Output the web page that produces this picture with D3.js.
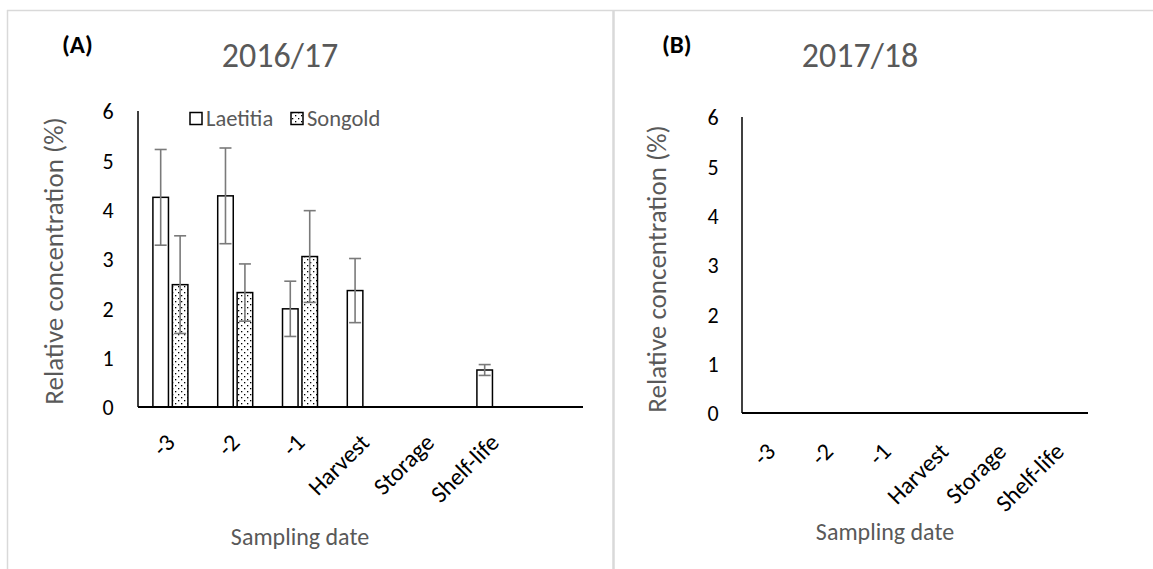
<!DOCTYPE html>
<html>
<head>
<meta charset="utf-8">
<script src="https://cdn.jsdelivr.net/npm/d3@7"></script>
<style>
  html, body { margin: 0; padding: 0; background: #fff; }
  svg { display: block; }
  text { font-family: Carlito, Calibri, "Open Sans", sans-serif; }
</style>
</head>
<body>
<svg id="chart" width="1153" height="569"></svg>
<script>
// ---- data ----
const categories = ["-3", "-2", "-1", "Harvest", "Storage", "Shelf-life"];
const seriesNames = ["Laetitia", "Songold"];
const yTicks = [0, 1, 2, 3, 4, 5, 6];

// Panel A (2016/17)
const laetitiaA = [4.25, 4.28, 1.99, 2.36, 0, 0.75];
const laetitiaErrA = [0.97, 0.97, 0.56, 0.65, 0, 0.11];
const songoldA = [2.48, 2.32, 3.05, 0, 0, 0];
const songoldErrA = [0.99, 0.58, 0.93, 0, 0, 0];

// Panel B (2017/18)
const laetitiaB = [0, 0, 0, 0, 0, 0];
const laetitiaErrB = [0, 0, 0, 0, 0, 0];
const songoldB = [0, 0, 0, 0, 0, 0];
const songoldErrB = [0, 0, 0, 0, 0, 0];

const svg = d3.select("#chart");
const GRAY_TXT = "#595959";

// pattern for Songold
const defs = svg.append("defs");
const pat = defs.append("pattern").attr("id", "dots")
  .attr("patternUnits", "userSpaceOnUse").attr("width", 6).attr("height", 6);
pat.append("rect").attr("width", 6).attr("height", 6).attr("fill", "#fff");
pat.append("rect").attr("x", 1).attr("y", 1).attr("width", 1.3).attr("height", 1.3).attr("fill", "#000");
pat.append("rect").attr("x", 4).attr("y", 4).attr("width", 1.3).attr("height", 1.3).attr("fill", "#000");

// frame lines
svg.append("line").attr("x1", 7).attr("x2", 1153).attr("y1", 10.5).attr("y2", 10.5)
  .attr("stroke", "#d9d9d9").attr("stroke-width", 1.5);
svg.append("line").attr("x1", 7.5).attr("x2", 7.5).attr("y1", 10).attr("y2", 569)
  .attr("stroke", "#d9d9d9").attr("stroke-width", 1.5);
svg.append("line").attr("x1", 613.5).attr("x2", 613.5).attr("y1", 10).attr("y2", 569)
  .attr("stroke", "#d9d9d9").attr("stroke-width", 2.5);

function panel(cfg) {
  const g = svg.append("g");
  const y = d3.scaleLinear().domain([0, 6]).range([cfg.y0, cfg.y6]);
  const x = d3.scaleBand().domain(categories).range([cfg.x0, cfg.x0 + cfg.band * categories.length]);
  const x1 = d3.scaleBand().domain(seriesNames)
    .range([x.bandwidth() * cfg.gL, x.bandwidth() * cfg.gR]).paddingInner(0.2);

  // y axis
  const yAxis = d3.axisLeft(y).tickValues(yTicks).tickSize(0).tickPadding(0).tickFormat(d3.format("d"));
  const ya = g.append("g").attr("transform", `translate(${cfg.x0},0)`).call(yAxis);
  ya.select(".domain").remove();
  ya.selectAll("text").attr("x", cfg.tickX - cfg.x0).attr("text-anchor", "middle")
    .attr("fill", "#000").style("font-size", "22px").attr("dy", "0.35em");
  g.append("line").attr("x1", cfg.x0).attr("x2", cfg.x0).attr("y1", cfg.y6).attr("y2", cfg.y0)
    .attr("stroke", "#000").attr("stroke-width", 1.5);

  const data = seriesNames.map((s, si) => ({
    name: s,
    values: categories.map((c, i) => ({ cat: c, v: cfg.vals[si][i], e: cfg.errs[si][i] }))
  }));

  const groups = g.selectAll("g.series").data(data).join("g").attr("class", "series");
  groups.each(function (sd) {
    const gg = d3.select(this);
    const fill = sd.name === "Songold" ? "url(#dots)" : "#fff";
    gg.selectAll("rect").data(sd.values.filter(d => d.v > 0)).join("rect")
      .attr("x", d => x(d.cat) + x1(sd.name))
      .attr("width", x1.bandwidth())
      .attr("y", d => y(d.v))
      .attr("height", d => y(0) - y(d.v))
      .attr("fill", fill).attr("stroke", "#000").attr("stroke-width", 1.5);
    const eb = gg.selectAll("g.err").data(sd.values.filter(d => cfg.showZeroErr || d.v > 0)).join("g").attr("class", "err")
      .attr("stroke", "#7a7a7a").attr("stroke-width", 1.6);
    const cx = d => x(d.cat) + x1(sd.name) + x1.bandwidth() / 2;
    eb.append("line").attr("x1", cx).attr("x2", cx).attr("y1", d => y(d.v + d.e)).attr("y2", d => y(d.v - d.e));
    eb.append("line").attr("x1", d => cx(d) - 6).attr("x2", d => cx(d) + 6).attr("y1", d => y(d.v + d.e)).attr("y2", d => y(d.v + d.e));
    eb.append("line").attr("x1", d => cx(d) - 6).attr("x2", d => cx(d) + 6).attr("y1", d => y(d.v - d.e)).attr("y2", d => y(d.v - d.e));
  });

  // x axis
  const xAxis = d3.axisBottom(x).tickSize(0).tickPadding(0);
  const xa = g.append("g").attr("transform", `translate(0,${cfg.y0})`).call(xAxis);
  xa.select(".domain").remove();
  xa.selectAll(".tick text")
    .attr("text-anchor", "end").attr("fill", "#000").style("font-size", "24px")
    .attr("y", 0).attr("dy", 0)
    .attr("transform", `translate(${cfg.lblDx},${cfg.lblDy}) rotate(-45)`);
  g.append("line").attr("x1", cfg.x0).attr("x2", cfg.xEnd).attr("y1", cfg.y0).attr("y2", cfg.y0)
    .attr("stroke", "#000").attr("stroke-width", 2);

  // titles
  g.append("text").attr("x", cfg.titleX).attr("y", cfg.titleY).attr("text-anchor", "middle")
    .attr("fill", GRAY_TXT).style("font-size", "34px").text(cfg.title);
  g.append("text").attr("x", cfg.tagX).attr("y", cfg.tagY)
    .attr("fill", "#000").style("font-size", "25px").style("font-weight", "bold").text(cfg.tag);
  g.append("text").attr("transform", `translate(${cfg.yLabX},${cfg.yLabY}) rotate(-90)`)
    .attr("text-anchor", "middle").attr("dy", "0.35em")
    .attr("fill", GRAY_TXT).style("font-size", "27px").text("Relative concentration (%)");
  g.append("text").attr("x", cfg.xLabX).attr("y", cfg.xLabY).attr("text-anchor", "middle")
    .attr("dy", "0.35em").attr("fill", GRAY_TXT).style("font-size", "24px").text("Sampling date");
  return g;
}

const gA = panel({
  x0: 138, y0: 407, y6: 111, band: 64.8, xEnd: 583, gL: 0.23, gR: 0.77,
  tickX: 108, vals: [laetitiaA, songoldA], errs: [laetitiaErrA, songoldErrA], showZeroErr: false,
  lblDx: 6, lblDy: 37,
  title: "2016/17", titleX: 280, titleY: 67, tag: "(A)", tagX: 62, tagY: 53,
  yLabX: 54, yLabY: 261, xLabX: 300, xLabY: 537
});
const gB = panel({
  x0: 742, y0: 413, y6: 117, band: 57.7, xEnd: 1088, gL: 0.2, gR: 0.8,
  tickX: 713, vals: [laetitiaB, songoldB], errs: [laetitiaErrB, songoldErrB], showZeroErr: true,
  lblDx: 6, lblDy: 40,
  title: "2017/18", titleX: 860, titleY: 67, tag: "(B)", tagX: 662, tagY: 53,
  yLabX: 657, yLabY: 269, xLabX: 885, xLabY: 532
});

// legend (panel A)
const legend = svg.append("g").attr("class", "legend");
const legX = [190, 291];
seriesNames.forEach((s, i) => {
  legend.append("rect").attr("x", legX[i]).attr("y", 112.5).attr("width", 12).attr("height", 12)
    .attr("fill", s === "Songold" ? "url(#dots)" : "#fff").attr("stroke", "#000").attr("stroke-width", 1.5);
  legend.append("text").attr("x", legX[i] + 16).attr("y", 126).attr("fill", GRAY_TXT)
    .style("font-size", "22.5px").text(s);
});
</script>
</body>
</html>
